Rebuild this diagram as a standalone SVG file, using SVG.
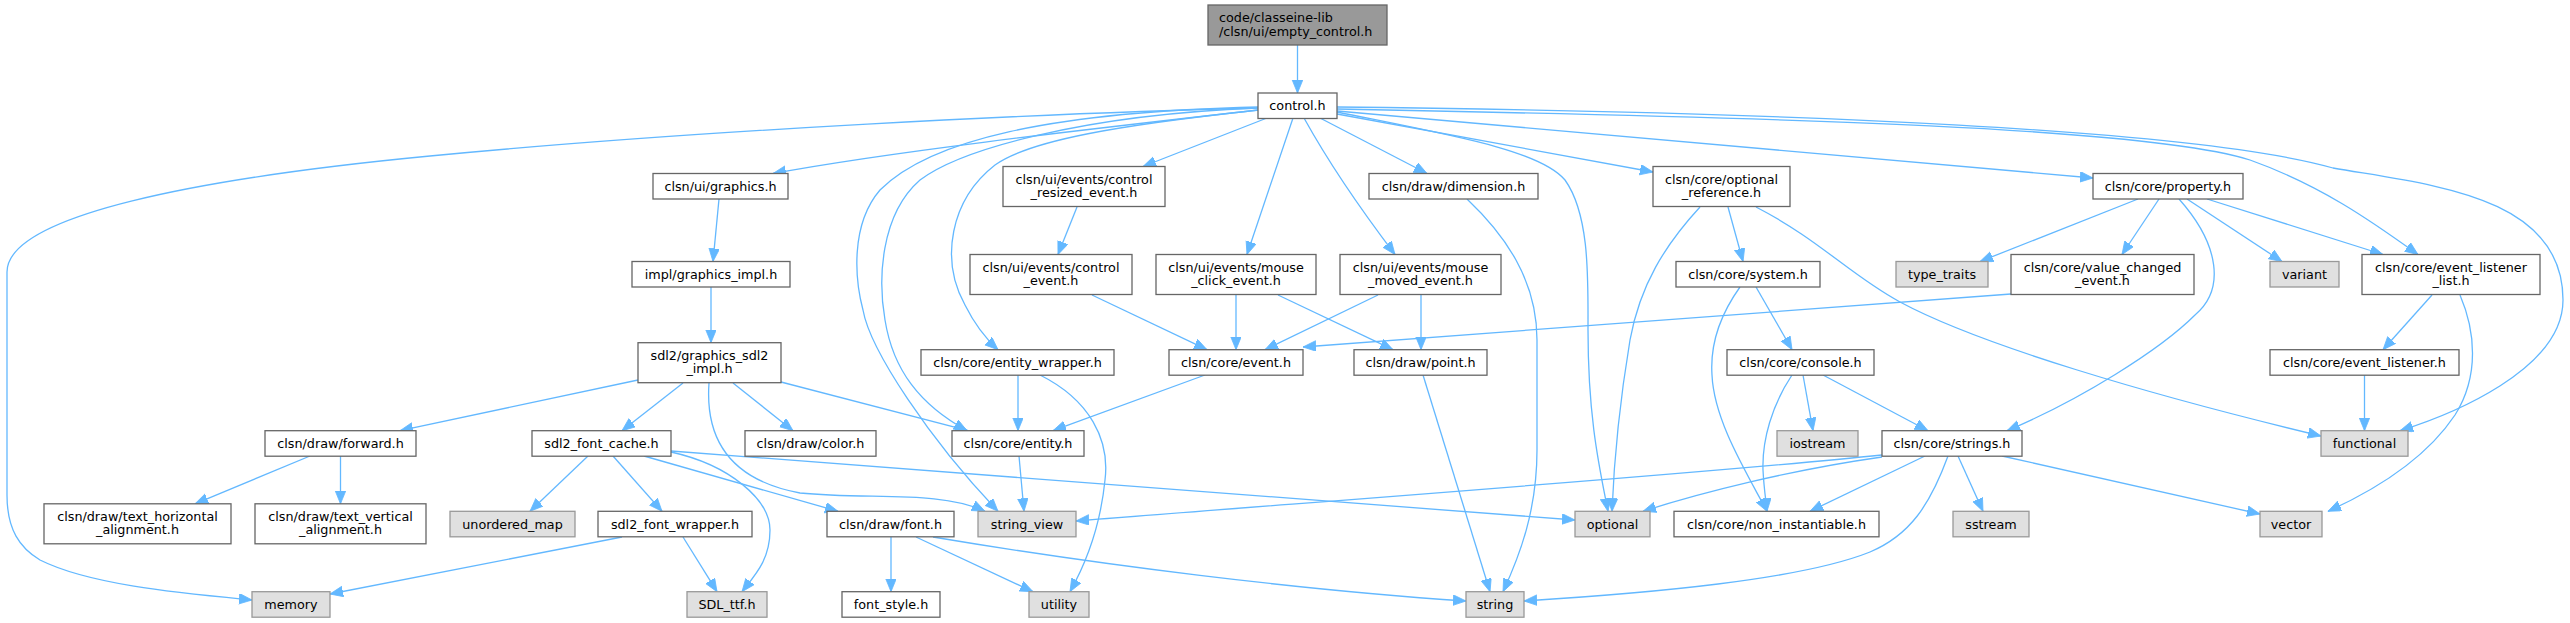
<svg xmlns="http://www.w3.org/2000/svg" width="2570" height="623" viewBox="0 0 2570 623">
<style>
rect.n{fill:#ffffff;stroke:#666666;stroke-width:1.3}
rect.g{fill:#e0e0e0;stroke:#999999;stroke-width:1.3}
rect.r{fill:#999999;stroke:#666666;stroke-width:1.3}
text{font-family:"DejaVu Sans","Liberation Sans",sans-serif;font-size:12.75px;fill:#000000;text-anchor:middle}
text.l{text-anchor:start}
#edges path{fill:none;stroke:#63b8ff;stroke-width:1.3;marker-end:url(#ah)}
</style>
<defs>
<marker id="ah" markerUnits="userSpaceOnUse" markerWidth="14" markerHeight="12" refX="13" refY="5.3" orient="auto">
<path d="M0,0 L13,5.3 L0,10.6 z" fill="#63b8ff" stroke="#63b8ff" stroke-width="0.8"/>
</marker>
</defs>
<rect width="2570" height="623" fill="#ffffff"/>
<g id="edges">
<path d="M1297.5,45 L1297.5,93"/>
<path d="M1258,108 C1050,113 700,130 430,156 C200,178 7,215 7,272 L7,495 C7,530 20,548 40,560 C90,585 180,593 252,600"/>
<path d="M1258,110 C1100,128 900,150 773,173.5"/>
<path d="M1258,107 C1050,112 930,140 880,190 C850,225 855,280 863,310 C870,350 930,440 998,511.3"/>
<path d="M1258,108 C1080,115 960,150 920,180 C880,215 878,280 885,320 C893,370 920,405 967,430.7"/>
<path d="M1259,110 C1120,125 1030,140 995,165 C950,200 940,260 965,305 C975,325 985,338 998,349.7"/>
<path d="M1267,118 L1143,166.5"/>
<path d="M1293,118 L1247,254.5"/>
<path d="M1304,118 C1330,165 1365,215 1395,254.5"/>
<path d="M1320,118 L1427,173.5"/>
<path d="M1337,112 C1450,135 1540,150 1565,180 C1590,215 1588,280 1588,330 C1588,420 1600,470 1608,511.3"/>
<path d="M1337,114 L1653,172"/>
<path d="M1337,111 L2093,178"/>
<path d="M1337,109 C1800,118 2150,128 2250,160 C2320,185 2370,220 2418,254.5"/>
<path d="M1337,107 C1800,112 2200,130 2333,168 C2430,185 2563,195 2563,300 C2563,370 2450,415 2400,430.7"/>
<path d="M719,199 L713,261.5"/>
<path d="M711,287 L711,342.7"/>
<path d="M638,380 L400,430.7"/>
<path d="M683,383 L622,430.7"/>
<path d="M733,383 L793,430.7"/>
<path d="M781,382 L968,430.7"/>
<path d="M709,383 C705,440 730,480 800,493 C870,500 940,490 985,511.3"/>
<path d="M588,456 L530,511.3"/>
<path d="M613,456 L662,511.3"/>
<path d="M671,452 C730,465 770,500 770,530 C770,560 755,575 742,591.7"/>
<path d="M644,456 L838,511.3"/>
<path d="M671,451 L1575,520"/>
<path d="M622,537 L330,594"/>
<path d="M683,537 L717,591.7"/>
<path d="M891,537 L891,591.7"/>
<path d="M916,537 L1033,591.7"/>
<path d="M933,537 C1100,565 1300,590 1466,601"/>
<path d="M310,456 L195,503.8"/>
<path d="M340.5,456 L340.5,503.8"/>
<path d="M1018,375 L1018,430.7"/>
<path d="M1040,375 C1090,400 1110,440 1105,480 C1100,530 1085,565 1070,591.7"/>
<path d="M1205,375 L1053,430.7"/>
<path d="M1019,456 L1024,511.3"/>
<path d="M1077,207 L1058,254.5"/>
<path d="M1092,295 L1207,349.7"/>
<path d="M1236,295 L1236,349.7"/>
<path d="M1278,295 L1393,349.7"/>
<path d="M1378,295 L1265,349.7"/>
<path d="M1421,295 L1421,349.7"/>
<path d="M2011,294 L1303,347"/>
<path d="M1423,375 L1490,591.7"/>
<path d="M1467,199 C1505,235 1537,280 1537,340 L1537,450 C1537,510 1520,555 1503,591.7"/>
<path d="M1700,207 C1665,245 1640,285 1630,340 C1620,400 1614,460 1612,511.3"/>
<path d="M1728,207 L1743,261.5"/>
<path d="M1756,207 C1820,240 1850,275 1900,302 C1980,345 2150,395 2321,436"/>
<path d="M1756,287 L1792,349.7"/>
<path d="M1740,287 C1720,315 1710,345 1712,375 C1714,420 1745,470 1767,511.3"/>
<path d="M1803,375 L1813,430.7"/>
<path d="M1823,375 L1928,430.7"/>
<path d="M1792,375 C1772,405 1762,440 1763,470 C1764,490 1766,500 1767,511.3"/>
<path d="M1882,455 C1700,474 1300,503 1076,521"/>
<path d="M1882,457 C1790,470 1700,493 1643,511.3"/>
<path d="M1925,456 L1810,511.3"/>
<path d="M1958,456 L1983,511.3"/>
<path d="M2002,456 L2260,514"/>
<path d="M1948,456 C1930,505 1910,535 1870,552 C1800,580 1650,593 1524,601"/>
<path d="M2138,199 L1980,261.5"/>
<path d="M2159,199 L2122,254.5"/>
<path d="M2179,199 C2220,245 2225,290 2195,315 C2160,350 2080,400 2007,430.7"/>
<path d="M2187,199 L2282,261.5"/>
<path d="M2207,199 L2383,254.5"/>
<path d="M2432,295 L2383,349.7"/>
<path d="M2460,295 C2475,330 2480,375 2455,415 C2425,460 2375,490 2328,511.3"/>
<path d="M2364.5,375 L2364.5,430.7"/>
</g>
<g id="root"><rect class="r" x="1208" y="5" width="179" height="40"/><text class="l" x="1219" y="21.5">code/classeine-lib</text><text class="l" x="1219" y="36">/clsn/ui/empty_control.h</text></g>
<g id="control"><rect class="n" x="1258" y="93" width="79" height="25.5"/><text x="1297.5" y="110.2">control.h</text></g>
<g id="graphics"><rect class="n" x="653" y="173.5" width="135" height="25.5"/><text x="720.5" y="190.7">clsn/ui/graphics.h</text></g>
<g id="resized"><rect class="n" x="1003" y="166.5" width="162" height="40"/><text x="1084" y="183.5">clsn/ui/events/control</text><text x="1084" y="197.1">_resized_event.h</text></g>
<g id="dimension"><rect class="n" x="1369" y="173.5" width="169" height="25.5"/><text x="1453.5" y="190.7">clsn/draw/dimension.h</text></g>
<g id="optref"><rect class="n" x="1653" y="166.5" width="137" height="40"/><text x="1721.5" y="183.5">clsn/core/optional</text><text x="1721.5" y="197.1">_reference.h</text></g>
<g id="property"><rect class="n" x="2093" y="173.5" width="150" height="25.5"/><text x="2168" y="190.7">clsn/core/property.h</text></g>
<g id="impl"><rect class="n" x="632" y="261.5" width="158" height="25.5"/><text x="711" y="278.7">impl/graphics_impl.h</text></g>
<g id="ctrlevent"><rect class="n" x="970" y="254.5" width="162" height="40"/><text x="1051" y="271.5">clsn/ui/events/control</text><text x="1051" y="285.1">_event.h</text></g>
<g id="click"><rect class="n" x="1156" y="254.5" width="160" height="40"/><text x="1236" y="271.5">clsn/ui/events/mouse</text><text x="1236" y="285.1">_click_event.h</text></g>
<g id="moved"><rect class="n" x="1340" y="254.5" width="161" height="40"/><text x="1420.5" y="271.5">clsn/ui/events/mouse</text><text x="1420.5" y="285.1">_moved_event.h</text></g>
<g id="system"><rect class="n" x="1676" y="261.5" width="144" height="25.5"/><text x="1748" y="278.7">clsn/core/system.h</text></g>
<g id="type_traits"><rect class="g" x="1896" y="261.5" width="92" height="25.5"/><text x="1942" y="278.7">type_traits</text></g>
<g id="valchg"><rect class="n" x="2011" y="254.5" width="183" height="40"/><text x="2102.5" y="271.5">clsn/core/value_changed</text><text x="2102.5" y="285.1">_event.h</text></g>
<g id="variant"><rect class="g" x="2270" y="261.5" width="69" height="25.5"/><text x="2304.5" y="278.7">variant</text></g>
<g id="evlist"><rect class="n" x="2362" y="254.5" width="178" height="40"/><text x="2451" y="271.5">clsn/core/event_listener</text><text x="2451" y="285.1">_list.h</text></g>
<g id="sdl2impl"><rect class="n" x="638" y="342.7" width="143" height="40"/><text x="709.5" y="359.7">sdl2/graphics_sdl2</text><text x="709.5" y="373.3">_impl.h</text></g>
<g id="wrapper"><rect class="n" x="921" y="349.7" width="193" height="25.5"/><text x="1017.5" y="366.9">clsn/core/entity_wrapper.h</text></g>
<g id="event"><rect class="n" x="1169" y="349.7" width="134" height="25.5"/><text x="1236" y="366.9">clsn/core/event.h</text></g>
<g id="point"><rect class="n" x="1354" y="349.7" width="133" height="25.5"/><text x="1420.5" y="366.9">clsn/draw/point.h</text></g>
<g id="console"><rect class="n" x="1727" y="349.7" width="147" height="25.5"/><text x="1800.5" y="366.9">clsn/core/console.h</text></g>
<g id="evlistener"><rect class="n" x="2270" y="349.7" width="189" height="25.5"/><text x="2364.5" y="366.9">clsn/core/event_listener.h</text></g>
<g id="forward"><rect class="n" x="265" y="430.7" width="151" height="25.5"/><text x="340.5" y="447.9">clsn/draw/forward.h</text></g>
<g id="fontcache"><rect class="n" x="532" y="430.7" width="139" height="25.5"/><text x="601.5" y="447.9">sdl2_font_cache.h</text></g>
<g id="color"><rect class="n" x="745" y="430.7" width="131" height="25.5"/><text x="810.5" y="447.9">clsn/draw/color.h</text></g>
<g id="entity"><rect class="n" x="952" y="430.7" width="132" height="25.5"/><text x="1018" y="447.9">clsn/core/entity.h</text></g>
<g id="iostream"><rect class="g" x="1777" y="430.7" width="81" height="25.5"/><text x="1817.5" y="447.9">iostream</text></g>
<g id="strings"><rect class="n" x="1882" y="430.7" width="140" height="25.5"/><text x="1952" y="447.9">clsn/core/strings.h</text></g>
<g id="functional"><rect class="g" x="2321" y="430.7" width="87" height="25.5"/><text x="2364.5" y="447.9">functional</text></g>
<g id="texth"><rect class="n" x="44" y="503.8" width="187" height="40"/><text x="137.5" y="520.8">clsn/draw/text_horizontal</text><text x="137.5" y="534.4">_alignment.h</text></g>
<g id="textv"><rect class="n" x="255" y="503.8" width="171" height="40"/><text x="340.5" y="520.8">clsn/draw/text_vertical</text><text x="340.5" y="534.4">_alignment.h</text></g>
<g id="umap"><rect class="g" x="450" y="511.3" width="125" height="25.5"/><text x="512.5" y="528.5">unordered_map</text></g>
<g id="fontwrapper"><rect class="n" x="598" y="511.3" width="154" height="25.5"/><text x="675" y="528.5">sdl2_font_wrapper.h</text></g>
<g id="font"><rect class="n" x="827" y="511.3" width="127" height="25.5"/><text x="890.5" y="528.5">clsn/draw/font.h</text></g>
<g id="string_view"><rect class="g" x="978" y="511.3" width="98" height="25.5"/><text x="1027" y="528.5">string_view</text></g>
<g id="optional"><rect class="g" x="1575" y="511.3" width="75" height="25.5"/><text x="1612.5" y="528.5">optional</text></g>
<g id="noninst"><rect class="n" x="1674" y="511.3" width="205" height="25.5"/><text x="1776.5" y="528.5">clsn/core/non_instantiable.h</text></g>
<g id="sstream"><rect class="g" x="1953" y="511.3" width="76" height="25.5"/><text x="1991" y="528.5">sstream</text></g>
<g id="vector"><rect class="g" x="2260" y="511.3" width="62" height="25.5"/><text x="2291" y="528.5">vector</text></g>
<g id="memory"><rect class="g" x="252" y="591.7" width="78" height="25.5"/><text x="291" y="608.9">memory</text></g>
<g id="sdl_ttf"><rect class="g" x="687" y="591.7" width="80" height="25.5"/><text x="727" y="608.9">SDL_ttf.h</text></g>
<g id="font_style"><rect class="n" x="842" y="591.7" width="98" height="25.5"/><text x="891" y="608.9">font_style.h</text></g>
<g id="utility"><rect class="g" x="1029" y="591.7" width="60" height="25.5"/><text x="1059" y="608.9">utility</text></g>
<g id="string"><rect class="g" x="1466" y="591.7" width="58" height="25.5"/><text x="1495" y="608.9">string</text></g>
</svg>
